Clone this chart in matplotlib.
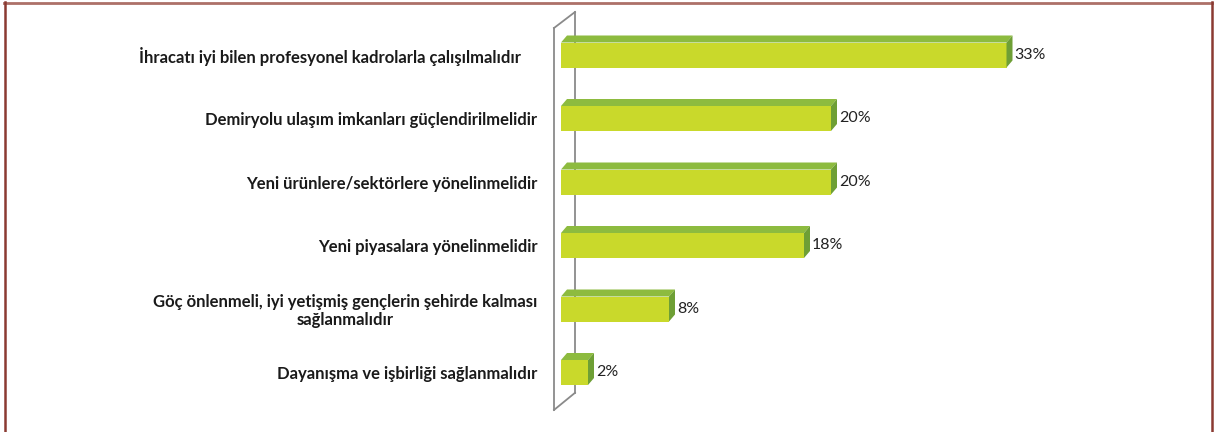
import matplotlib
matplotlib.use('Agg')
import matplotlib.pyplot as plt
from matplotlib.patches import Polygon
from matplotlib.lines import Line2D

# Oranlar (%), yukaridan asagiya
etiketler = [
    'İhracatı iyi bilen profesyonel kadrolarla çalışılmalıdır    ',
    'Demiryolu ulaşım imkanları güçlendirilmelidir',
    'Yeni ürünlere/sektörlere yönelinmelidir',
    'Yeni piyasalara yönelinmelidir',
    'Göç önlenmeli, iyi yetişmiş gençlerin şehirde kalması\nsağlanmalıdır',
    'Dayanışma ve işbirliği sağlanmalıdır',
]
oranlar = [33, 20, 20, 18, 8, 2]

on_renk = '#c9d92b'
ust_renk = '#8dbb3f'
yan_renk = '#6e9f35'

W, H = 1214, 432
fig = plt.figure(figsize=(W / 100, H / 100), dpi=100)

# eksen: 0 noktasi 561 px, 1 birim = 13.5 px ; kategori araligi 63.5 px
px_x = 13.5
px_y = 63.5
sol = 561
ax = fig.add_axes([sol / W, 0, (W - sol) / W, 1])
ax.set_xlim(0, (W - sol) / px_x)
ax.set_ylim((H - 55) / px_y, -55 / px_y)

y = list(range(len(oranlar)))
h = 25 / px_y      # on yuz yuksekligi
dx = 6 / px_x      # derinlik
dy = 7 / px_y

ax.barh(y, oranlar, height=h, color=on_renk, edgecolor='none', zorder=3)
for yi, v in zip(y, oranlar):
    ust = yi - h / 2
    alt = yi + h / 2
    ax.add_patch(Polygon([(0, ust), (v, ust), (v + dx, ust - dy), (dx, ust - dy)],
                         closed=True, facecolor=ust_renk, edgecolor='none', zorder=3))
    ax.add_patch(Polygon([(v, ust), (v + dx, ust - dy), (v + dx, alt - dy), (v, alt)],
                         closed=True, facecolor=yan_renk, edgecolor='none', zorder=3))
    ax.text(v + dx + 2 / px_x, yi, f'{v}%', va='center', ha='left',
            fontsize=11.5, family='Lato', color='#222222', zorder=4)

# duvar (3B eksen cercevesi)
n = len(oranlar)
on_x, arka_x = -7 / px_x, 14 / px_x
on_ust, on_alt = -0.425, n - 0.41
arka_ust, arka_alt = -0.677, n - 0.68
duvar = dict(color='#8a8a8a', lw=1.3, zorder=1, clip_on=False)
ax.plot([on_x, on_x], [on_ust, on_alt], **duvar)
ax.plot([arka_x, arka_x], [arka_ust, arka_alt], **duvar)
ax.plot([on_x, arka_x], [on_ust, arka_ust], **duvar)
ax.plot([on_x, arka_x], [on_alt, arka_alt], **duvar)

ax.set_yticks(y)
ax.set_yticklabels(etiketler, fontsize=12, family='Lato', fontweight='bold', color='#1a1a1a')
for t in ax.get_yticklabels():
    t.set_multialignment('center')
    t.set_linespacing(1.15)
ax.tick_params(axis='y', length=0, pad=17)
ax.set_xticks([])
for s in ax.spines.values():
    s.set_visible(False)
ax.patch.set_alpha(0)

# sayfa cercevesi
fig.add_artist(Line2D([4 / W, 1212 / W], [1 - 2.5 / H, 1 - 2.5 / H], color='#ad7068', lw=2))
fig.add_artist(Line2D([4.5 / W, 4.5 / W], [0, 1 - 2 / H], color='#8b3a32', lw=1.8))
fig.add_artist(Line2D([1212 / W, 1212 / W], [0, 1 - 2 / H], color='#8b3a32', lw=1.8))

fig.savefig('out.png', dpi=100)
